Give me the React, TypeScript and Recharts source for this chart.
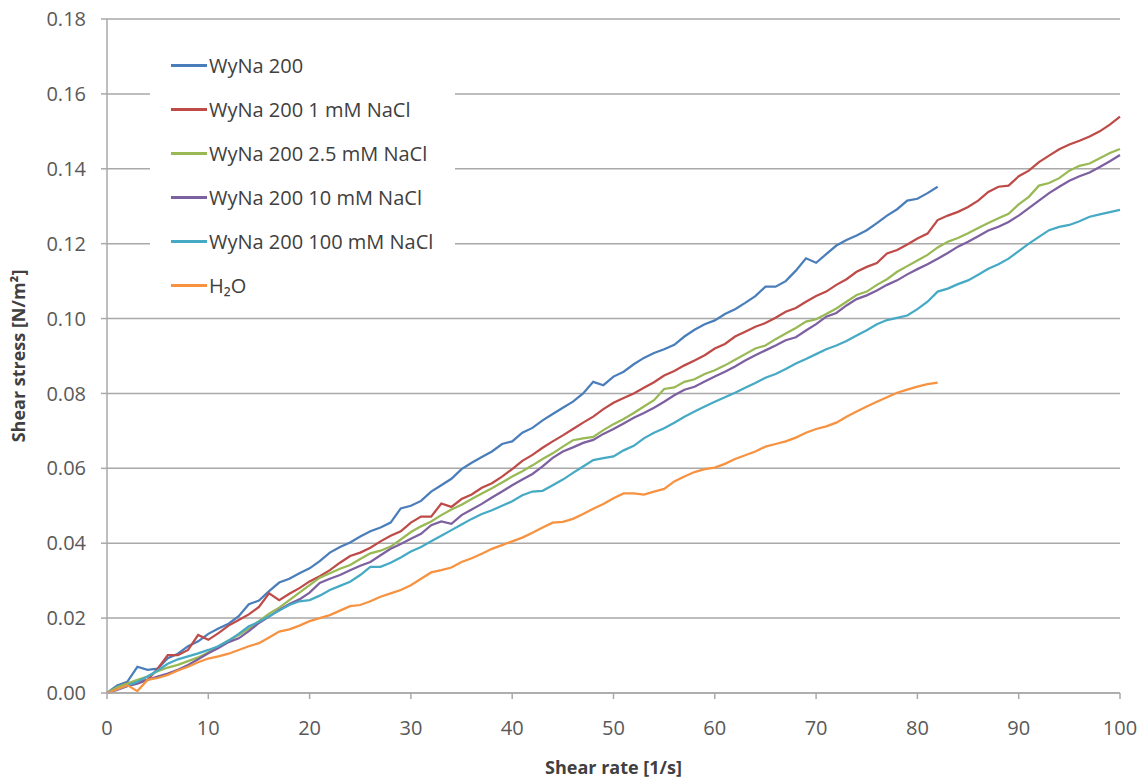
import React from 'react';
import { CartesianGrid, Legend, Line, LineChart, XAxis, YAxis } from 'recharts';

// shear rate [1/s], one reading per unit
const shearRate = Array.from({ length: 101 }, (_, i) => i);

// shear stress [N/m²]
const wyna200 = [
  0, 0.002, 0.003, 0.007, 0.0062, 0.0065, 0.0093, 0.0105, 0.0125, 0.0138,
  0.0158, 0.0172, 0.0185, 0.0205, 0.0237, 0.0247, 0.0272, 0.0295, 0.0305, 0.032,
  0.0333, 0.0352, 0.0375, 0.039, 0.0402, 0.0418, 0.0432, 0.0442, 0.0455, 0.0493,
  0.05, 0.0513, 0.0538, 0.0555, 0.0572, 0.0598, 0.0615, 0.063, 0.0645, 0.0665,
  0.0672, 0.0695, 0.0708, 0.0728, 0.0745, 0.0762, 0.0778, 0.08, 0.0831, 0.0822,
  0.0845, 0.0858, 0.0878, 0.0895, 0.0908, 0.0918, 0.093, 0.0952, 0.097, 0.0985,
  0.0995, 0.1012, 0.1025, 0.1042, 0.106, 0.1085, 0.1085, 0.11, 0.1128, 0.1161,
  0.1149, 0.1172, 0.1195, 0.121, 0.1222, 0.1236, 0.1255, 0.1275, 0.1292, 0.1315,
  0.132, 0.1335, 0.1352,
];

const wyna200Nacl1 = [
  0, 0.001, 0.0026, 0.003, 0.0035, 0.0065, 0.0101, 0.0101, 0.0115, 0.0155,
  0.0142, 0.016, 0.018, 0.0195, 0.021, 0.023, 0.0266, 0.0248, 0.0265, 0.028,
  0.0298, 0.0312, 0.0328, 0.0348, 0.0366, 0.0375, 0.0388, 0.0405, 0.042, 0.0432,
  0.0455, 0.0471, 0.0471, 0.0506, 0.0497, 0.0518, 0.053, 0.0548, 0.056, 0.0578,
  0.0598, 0.062, 0.0636, 0.0655, 0.0672, 0.0688, 0.0705, 0.0722, 0.0738, 0.0758,
  0.0775, 0.0788, 0.08, 0.0815, 0.083, 0.0848, 0.086, 0.0875, 0.0888, 0.0902,
  0.092, 0.0932, 0.0952, 0.0965, 0.0978, 0.0988, 0.1002, 0.1018, 0.1028, 0.1045,
  0.106, 0.1072, 0.109, 0.1105, 0.1125, 0.1138, 0.1148, 0.1174, 0.1183, 0.1198,
  0.1214, 0.1227, 0.1263, 0.1275, 0.1285, 0.1298, 0.1315, 0.1338, 0.1352, 0.1355,
  0.138, 0.1395, 0.1418, 0.1435, 0.1452, 0.1465, 0.1475, 0.1486, 0.15, 0.1518,
  0.1539,
];

const wyna200Nacl25 = [
  0, 0.0015, 0.0025, 0.0035, 0.0044, 0.0058, 0.0068, 0.0075, 0.0085, 0.0095,
  0.0108, 0.0125, 0.014, 0.0155, 0.0172, 0.0192, 0.0212, 0.0228, 0.0248, 0.0268,
  0.0288, 0.0308, 0.032, 0.0332, 0.0342, 0.0358, 0.0373, 0.038, 0.0391, 0.041,
  0.043, 0.0445, 0.0458, 0.0475, 0.049, 0.0503, 0.0518, 0.0533, 0.0547, 0.0562,
  0.0578, 0.0592, 0.0608, 0.0625, 0.064, 0.0658, 0.0675, 0.068, 0.0684, 0.0702,
  0.0718, 0.0732, 0.0748, 0.0765, 0.0782, 0.0812, 0.0816, 0.0831, 0.0838, 0.0852,
  0.0862, 0.0875, 0.089, 0.0905, 0.092, 0.0928, 0.0945, 0.096, 0.0975, 0.0992,
  0.0998, 0.1012, 0.1027, 0.1045, 0.1063, 0.1072, 0.109, 0.1105, 0.1125, 0.114,
  0.1155, 0.117, 0.119, 0.1205, 0.1215, 0.1228, 0.1242, 0.1255, 0.1268, 0.128,
  0.1305, 0.1325, 0.1355, 0.1362, 0.1375, 0.1395, 0.1408, 0.1414, 0.1428, 0.1442,
  0.1453,
];

const wyna200Nacl10 = [
  0, 0.0008, 0.0018, 0.0025, 0.0035, 0.0044, 0.0052, 0.0062, 0.0075, 0.009,
  0.0106, 0.012, 0.0136, 0.0146, 0.0165, 0.0187, 0.0204, 0.0222, 0.0238, 0.025,
  0.0268, 0.0294, 0.0305, 0.0315, 0.0328, 0.034, 0.035, 0.0368, 0.0385, 0.0398,
  0.0412, 0.0425, 0.0448, 0.0458, 0.0452, 0.0475, 0.049, 0.0505, 0.0522, 0.0538,
  0.0555, 0.057, 0.0585, 0.0605, 0.0628, 0.0645, 0.0656, 0.0668, 0.0676, 0.0692,
  0.0705, 0.072, 0.0735, 0.0748, 0.0762, 0.0778, 0.0795, 0.081, 0.0818, 0.0832,
  0.0845, 0.0858, 0.0872, 0.0888, 0.0902, 0.0915, 0.0928, 0.0942, 0.095, 0.0968,
  0.0985, 0.1005, 0.1015, 0.1035, 0.1052, 0.1062, 0.1075, 0.109, 0.1102, 0.1118,
  0.1132, 0.1145, 0.116, 0.1175, 0.1192, 0.1205, 0.122, 0.1235, 0.1245, 0.1258,
  0.1275, 0.1295, 0.1315, 0.1335, 0.1352, 0.1368, 0.138, 0.139, 0.1405, 0.142,
  0.1437,
];

const wyna200Nacl100 = [
  0, 0.001, 0.002, 0.003, 0.0044, 0.006, 0.0078, 0.009, 0.0098, 0.0106,
  0.0115, 0.0125, 0.014, 0.0158, 0.0178, 0.019, 0.0205, 0.022, 0.0235, 0.0245,
  0.0248, 0.026, 0.0275, 0.0286, 0.0297, 0.0315, 0.0337, 0.0337, 0.0348, 0.0362,
  0.0378, 0.039, 0.0405, 0.042, 0.0435, 0.045, 0.0465, 0.0478, 0.0488, 0.05,
  0.0512, 0.0528, 0.0538, 0.054, 0.0555, 0.057, 0.0588, 0.0605, 0.0622, 0.0627,
  0.0632, 0.0648, 0.066, 0.068, 0.0695, 0.0707, 0.0722, 0.0738, 0.0752, 0.0765,
  0.0778, 0.079, 0.0802, 0.0815, 0.0828, 0.0842, 0.0852, 0.0865, 0.088, 0.0892,
  0.0905, 0.0918, 0.0928, 0.094, 0.0955, 0.0969, 0.0985, 0.0996, 0.1002, 0.1008,
  0.1025, 0.1045, 0.1072, 0.108, 0.1092, 0.1102, 0.1117, 0.1133, 0.1145, 0.116,
  0.118, 0.12, 0.1218, 0.1236, 0.1245, 0.125, 0.126, 0.1272, 0.1278, 0.1284,
  0.129,
];

const water = [
  0, 0.001, 0.0021, 0.0005, 0.0035, 0.004, 0.0048, 0.006, 0.007, 0.0082,
  0.0092, 0.0098, 0.0105, 0.0115, 0.0125, 0.0133, 0.0148, 0.0164, 0.017, 0.018,
  0.0192, 0.02, 0.0208, 0.022, 0.0232, 0.0235, 0.0245, 0.0257, 0.0266, 0.0275,
  0.0288, 0.0305, 0.0322, 0.0328, 0.0335, 0.035, 0.036, 0.0372, 0.0385, 0.0395,
  0.0405, 0.0415, 0.0428, 0.0442, 0.0455, 0.0457, 0.0465, 0.0478, 0.0492, 0.0505,
  0.052, 0.0533, 0.0533, 0.053, 0.0538, 0.0545, 0.0565, 0.0578, 0.059, 0.0598,
  0.0602, 0.0612, 0.0625, 0.0635, 0.0645, 0.0658, 0.0665, 0.0672, 0.0682, 0.0695,
  0.0705, 0.0712, 0.0722, 0.0738, 0.0752, 0.0765, 0.0778, 0.079, 0.0802, 0.081,
  0.0818, 0.0825, 0.0829,
];

const seriesNames = [
  'WyNa 200',
  'WyNa 200 1 mM NaCl',
  'WyNa 200 2.5 mM NaCl',
  'WyNa 200 10 mM NaCl',
  'WyNa 200 100 mM NaCl',
  'H₂O',
];
const seriesColors = ['#4a7ebb', '#be4b48', '#98b954', '#7d60a0', '#46aac5', '#f69240'];
const seriesValues = [wyna200, wyna200Nacl1, wyna200Nacl25, wyna200Nacl10, wyna200Nacl100, water];

const xTicks = [0, 10, 20, 30, 40, 50, 60, 70, 80, 90, 100];
const yTicks = [0, 0.02, 0.04, 0.06, 0.08, 0.1, 0.12, 0.14, 0.16, 0.18];

const rows = shearRate.map((x, i) => {
  const row: Record<string, number | undefined> = { x };
  seriesValues.forEach((vals, s) => {
    row[`s${s}`] = vals[i];
  });
  return row;
});

const FONT = '"Open Sans", "DejaVu Sans", sans-serif';
const AXIS = '#a9a9a9';

function LegendBox() {
  return (
    <div style={{ background: '#fff', paddingTop: 8, fontFamily: FONT }}>
      {seriesNames.map((name, i) => (
        <div key={name} style={{ height: 44, display: 'flex', alignItems: 'center' }}>
          <span
            style={{
              display: 'inline-block',
              width: 36,
              height: 3,
              marginLeft: 21,
              marginRight: 2,
              background: seriesColors[i],
            }}
          />
          <span style={{ fontSize: 20, color: '#404040', whiteSpace: 'nowrap' }}>{name}</span>
        </div>
      ))}
    </div>
  );
}

export default function App() {
  return (
    <div style={{ position: 'absolute', left: 0, top: 0, width: 1144, height: 780, background: '#fff' }}>
      <LineChart
        width={1144}
        height={780}
        data={rows}
        margin={{ top: 19, right: 24, left: 0, bottom: 0 }}
        style={{ fontFamily: FONT }}
      >
        <CartesianGrid vertical={false} stroke={AXIS} strokeWidth={1.5} horizontalValues={yTicks} />
        <XAxis
          dataKey="x"
          type="number"
          domain={[0, 100]}
          ticks={xTicks}
          height={87}
          stroke={AXIS}
          strokeWidth={1.5}
          tickSize={6}
          tickMargin={22}
          tick={{ fontSize: 20, fill: '#595959' }}
          label={{
            content: ({ viewBox }: any) => (
              <text
                x={viewBox.x + viewBox.width / 2}
                y={viewBox.y + 74}
                textAnchor="middle"
                dominantBaseline="central"
                style={{ fontSize: 18, fontWeight: 700, fill: '#404040', fontFamily: FONT }}
              >
                Shear rate [1/s]
              </text>
            ),
          }}
        />
        <YAxis
          type="number"
          domain={[0, 0.18]}
          ticks={yTicks}
          width={107}
          stroke={AXIS}
          strokeWidth={1.5}
          tickSize={6}
          tickMargin={15}
          tick={{ fontSize: 20, fill: '#595959' }}
          tickFormatter={(v: number) => v.toFixed(2)}
          label={{
            content: ({ viewBox }: any) => {
              const cx = viewBox.x + 18;
              const cy = viewBox.y + viewBox.height / 2;
              return (
                <text
                  x={cx}
                  y={cy}
                  transform={`rotate(-90, ${cx}, ${cy})`}
                  textAnchor="middle"
                  dominantBaseline="central"
                  style={{ fontSize: 18, fontWeight: 700, fill: '#404040', fontFamily: FONT }}
                >
                  Shear stress [N/m²]
                </text>
              );
            },
          }}
        />
        <Legend
          layout="vertical"
          align="center"
          verticalAlign="middle"
          content={() => <LegendBox />}
          wrapperStyle={{ left: 150, top: 35, width: 305, height: 272 }}
        />
        {seriesNames.map((name, i) => (
          <Line
            key={name}
            type="linear"
            dataKey={`s${i}`}
            name={name}
            stroke={seriesColors[i]}
            strokeWidth={2.25}
            dot={false}
            activeDot={false}
            isAnimationActive={false}
          />
        ))}
      </LineChart>
    </div>
  );
}
